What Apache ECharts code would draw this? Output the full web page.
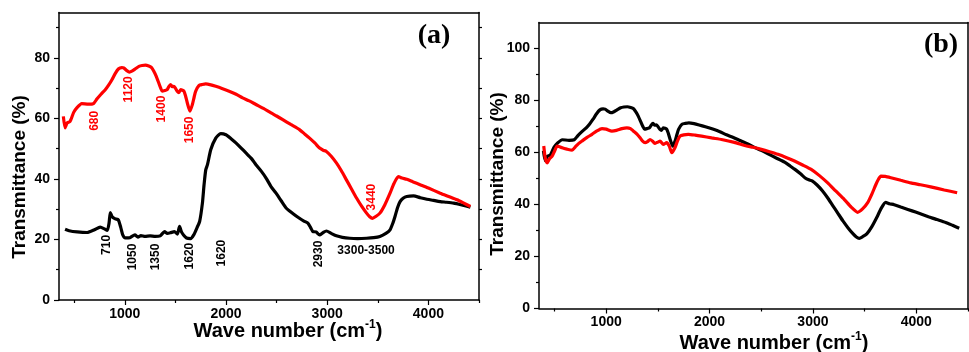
<!DOCTYPE html>
<html>
<head>
<meta charset="utf-8">
<script src="https://cdn.jsdelivr.net/npm/echarts@6/dist/echarts.min.js"></script>
<style>html,body{margin:0;padding:0;background:#fff}#c{width:969px;height:352px}</style>
</head>
<body>
<div id="c"></div>
<script>
// ---- data ----
// Spectrum 1: red in (a), black in (b)
var s1_wn = [393,410,430,459,495,526,575,640,691,724,765,807,840,873,905,939,970,989,1020,1045,1075,1105,1140,1171,1205,1237,1265,1287,1310,1336,1355,1370,1395,1419,1435,1452,1470,1485,1500,1518,1535,1552,1570,1585,1600,1618,1644,1668,1685,1701,1734,1765,1800,1850,1899,1960,2031,2100,2164,2230,2296,2370,2445,2500,2561,2640,2726,2780,2826,2880,2925,2960,2992,3040,3091,3140,3190,3240,3290,3340,3389,3420,3448,3480,3521,3570,3621,3660,3703,3740,3786,3850,3918,4000,4117,4200,4283,4350,4415];
var s1_T  = [60.7,56.9,58.5,59.0,62,63.5,64.9,64.7,64.9,66.4,68,69.5,71,72.8,74.8,76.4,76.8,76.7,75.8,75.3,75.7,76.4,77.2,77.5,77.6,77.3,76.8,75.6,74,71.7,70,69.0,69.2,69.5,70.5,71.2,70.5,70.6,70,69.0,68.5,69.5,69.3,69.0,67.5,65.1,62.4,64.6,67,69.0,70.9,71.2,71.4,71.1,70.6,69.9,69.0,68,66.8,65.8,64.6,63.3,61.8,60.8,59.6,58,56.3,54.8,53.5,51.8,50.2,49.5,49.1,47.5,45.3,42.7,39.7,36.7,33.7,31.0,28.7,27.5,27.0,27.6,28.7,31.5,35.3,38.5,40.8,40.3,39.9,39,38.1,37,35.3,34.2,33.1,32,30.9];
// Spectrum 0: black in (a)
var s0_wn = [410,450,530,628,700,757,800,827,845,857,875,906,936,960,980,1005,1050,1100,1130,1160,1200,1250,1300,1350,1393,1420,1450,1490,1520,1541,1560,1580,1610,1650,1681,1715,1740,1767,1783,1800,1817,1850,1899,1949,1999,2050,2098,2150,2197,2250,2296,2350,2396,2445,2495,2545,2594,2660,2726,2770,2809,2835,2859,2890,2925,2960,2992,3040,3091,3150,3223,3300,3389,3460,3521,3580,3621,3650,3670,3695,3720,3750,3786,3853,3920,3985,4050,4117,4180,4250,4330,4415];
var s0_T  = [23.4,22.9,22.5,22.3,23.2,24.1,23.5,23.0,25.5,28.9,27.5,26.8,26.5,24,21.5,20.5,20.6,21.5,20.8,21.3,21.0,21.2,21.0,21.2,22.6,22.0,22.2,22.6,21.8,24.3,22.5,21.5,20.5,20.3,21.5,24,26,32,38,43,44.7,49.7,53.5,55.0,54.6,53.3,51.9,50.2,48.6,46.8,44.7,42.5,40.3,37.5,35.3,32.8,30.4,28.6,27.0,26.1,25.4,24.0,22.6,22.5,21.5,22.3,22.8,22.0,21.2,20.7,20.4,20.3,20.4,20.6,21.0,22,23.2,25.5,27.6,30.5,32.5,33.6,34.2,34.4,33.8,33.3,32.9,32.5,32.3,32.0,31.4,30.7];
// Spectrum 2: red in (b)
var s2_wn = [396,410,429,450,477,500,525,550,574,620,670,702,735,766,815,863,910,959,1000,1055,1100,1152,1200,1235,1264,1300,1328,1350,1376,1400,1424,1450,1473,1500,1521,1553,1585,1610,1634,1665,1690,1714,1750,1794,1860,1923,2020,2115,2240,2340,2420,2501,2580,2661,2740,2822,2900,2983,3060,3143,3220,3304,3370,3432,3480,3528,3570,3609,3635,3657,3700,3754,3850,3946,4040,4139,4270,4395];
var s2_T  = [62.5,58,56.0,57.5,58.6,60.5,62.5,62.2,61.8,61.3,60.9,62.2,63.5,64.4,65.8,67.0,68.3,69.2,69,68.2,68.5,69.2,69.5,69.2,68.2,67,65.7,64.5,63.8,64.2,65.0,64.3,63.5,64,64.4,63.1,63.8,62.5,59.9,61.8,64.5,66.3,66.8,67.0,66.7,66.3,65.6,65.0,63.9,62.7,62,61.2,60.3,59.3,58.1,56.7,55.2,53.5,51.2,48.3,45.2,41.9,39.0,37.0,38.3,40.6,44,47.7,49.8,50.9,50.8,50.3,49.3,48.3,47.6,46.8,45.6,44.5];

// tick labels
var xTickLabels = [1000,2000,3000,4000];
var xMinorTicks = [500,1500,2500,3500,4500];
var yTicksA = [0,20,40,60,80];
var yTicksB = [0,20,40,60,80,100];
var yMinor = [10,30,50,70,90];
var yAllA = [10,20,30,40,50,60,70,80,90];

// annotations panel (a): [text, wavenumber, transmittance, color, rotated]
var annText  = ['680','1120','1400','1650','3440','710','1050','1350','1620','1620','2930','3300-3500'];
var annX     = [706,1042,1368,1644,3443,824,1081,1308,1644,1961,2919,3384];
var annY     = [59.2,69.6,63.1,56.2,34.0,18.2,14.2,14.2,14.5,15.5,15.2,16.2];
var annRed   = [1,1,1,1,1,0,0,0,0,0,0,0];
var annRot   = [1,1,1,1,1,1,1,1,1,1,1,0];

function zip(a,b){ var r=[]; for(var i=0;i<a.length;i++) r.push([a[i],b[i]]); return r; }

var FONT = 'Liberation Sans, Arial, sans-serif';
var lineStyleAxis = {color:'#000', width:1.5};
function plain(v){ return String(v); }

function xMain(g){ return {gridIndex:g, type:'value', min:350, max:4500, position:'bottom',
  axisLine:{show:true, onZero:false, lineStyle:lineStyleAxis},
  axisTick:{show:true, inside:false, length:5, customValues:xTickLabels, lineStyle:{color:'#000',width:1.2}},
  axisLabel:{show:true, customValues:xTickLabels, formatter:plain, margin:7, color:'#000', fontFamily:FONT, fontWeight:'bold', fontSize:14},
  splitLine:{show:false}}; }
function xMinor(g){ return {gridIndex:g, type:'value', min:350, max:4500, position:'bottom',
  axisLine:{show:false, onZero:false},
  axisTick:{show:true, length:3, customValues:xMinorTicks, lineStyle:{color:'#000',width:1.2}},
  axisLabel:{show:false}, splitLine:{show:false}}; }
function xTop(g){ return {gridIndex:g, type:'value', min:350, max:4500, position:'top',
  axisLine:{show:true, onZero:false, lineStyle:lineStyleAxis},
  axisTick:{show:false}, axisLabel:{show:false}, splitLine:{show:false}}; }
function yMain(g,max,ticks){ return {gridIndex:g, type:'value', min:0, max:max, position:'left',
  axisLine:{show:true, onZero:false, lineStyle:lineStyleAxis},
  axisTick:{show:true, length:5, customValues:ticks, lineStyle:{color:'#000',width:1.2}},
  axisLabel:{show:true, customValues:ticks, formatter:plain, margin:9, color:'#000', fontFamily:FONT, fontWeight:'bold', fontSize:14},
  splitLine:{show:false}}; }
function yMinorAx(g,max){ return {gridIndex:g, type:'value', min:0, max:max, position:'left',
  axisLine:{show:false, onZero:false},
  axisTick:{show:true, length:3, customValues:yMinor, lineStyle:{color:'#000',width:1.2}},
  axisLabel:{show:false}, splitLine:{show:false}}; }
function yRight(g,max,ticks){ return {gridIndex:g, type:'value', min:0, max:max, position:'right',
  axisLine:{show:true, onZero:false, lineStyle:lineStyleAxis},
  axisTick:{show:!!ticks, length:3, customValues:ticks||[], lineStyle:{color:'#000',width:1.2}},
  axisLabel:{show:false}, splitLine:{show:false}}; }

var chart = echarts.init(document.getElementById('c'), null, {renderer:'canvas'});

var option = {
  animation:false,
  backgroundColor:'#fff',
  grid:[
    {left:59, top:12.5, width:420, height:287.5, containLabel:false},
    {left:539, top:22.5, width:429, height:286, containLabel:false}
  ],
  xAxis:[xMain(0), xMinor(0), xTop(0), xMain(1), xMinor(1), xTop(1)],
  yAxis:[yMain(0,95,yTicksA), yMinorAx(0,95), yRight(0,95,yAllA), yMain(1,110,yTicksB), yMinorAx(1,110), yRight(1,110,null)],
  series:[
    {type:'line', xAxisIndex:0, yAxisIndex:0, data:zip(s0_wn,s0_T), showSymbol:false, smooth:0.2, lineStyle:{color:'#000', width:3.2}},
    {type:'line', xAxisIndex:0, yAxisIndex:0, data:zip(s1_wn,s1_T), showSymbol:false, smooth:0.2, lineStyle:{color:'#ff0000', width:3.2}},
    {type:'line', xAxisIndex:3, yAxisIndex:3, data:zip(s1_wn,s1_T), showSymbol:false, smooth:0.2, lineStyle:{color:'#000', width:3.2}},
    {type:'line', xAxisIndex:3, yAxisIndex:3, data:zip(s2_wn,s2_T), showSymbol:false, smooth:0.2, lineStyle:{color:'#ff0000', width:3.2}}
  ]
};
chart.setOption(option);

var g = [];
// axis titles
g.push({type:'text', x:20, y:177, rotation:Math.PI/2, style:{text:'Transmittance (%)', font:'bold 19px '+FONT, fill:'#000', align:'center', verticalAlign:'middle'}});
g.push({type:'text', x:498, y:174, rotation:Math.PI/2, style:{text:'Transmittance (%)', font:'bold 19px '+FONT, fill:'#000', align:'center', verticalAlign:'middle'}});
function xTitle(x,y){ return {type:'text', x:x, y:y, style:{text:'{a|Wave number (cm}{s|-1}{a|)}', align:'center', verticalAlign:'middle', fill:'#000',
  rich:{a:{font:'bold 20px '+FONT, fill:'#000', lineHeight:22, verticalAlign:'bottom'}, s:{font:'bold 12px '+FONT, fill:'#000', verticalAlign:'top', lineHeight:22}}}}; }
g.push(xTitle(288,330));
g.push(xTitle(774,342));
// panel labels
g.push({type:'text', x:434, y:36, style:{text:'(a)', font:'bold 28px Liberation Serif, Times New Roman, serif', fill:'#000', align:'center', verticalAlign:'middle'}});
g.push({type:'text', x:941, y:45, style:{text:'(b)', font:'bold 28px Liberation Serif, Times New Roman, serif', fill:'#000', align:'center', verticalAlign:'middle'}});
// annotations
for (var i=0;i<annText.length;i++){
  var p = chart.convertToPixel({gridIndex:0}, [annX[i], annY[i]]);
  g.push({type:'text', x:p[0], y:p[1], rotation: annRot[i] ? Math.PI/2 : 0,
    style:{text:annText[i], font:'bold 12px '+FONT, fill: annRed[i] ? '#ff0000' : '#000', align:'center', verticalAlign:'middle'}});
}
chart.setOption({graphic:g});
</script>
</body>
</html>
